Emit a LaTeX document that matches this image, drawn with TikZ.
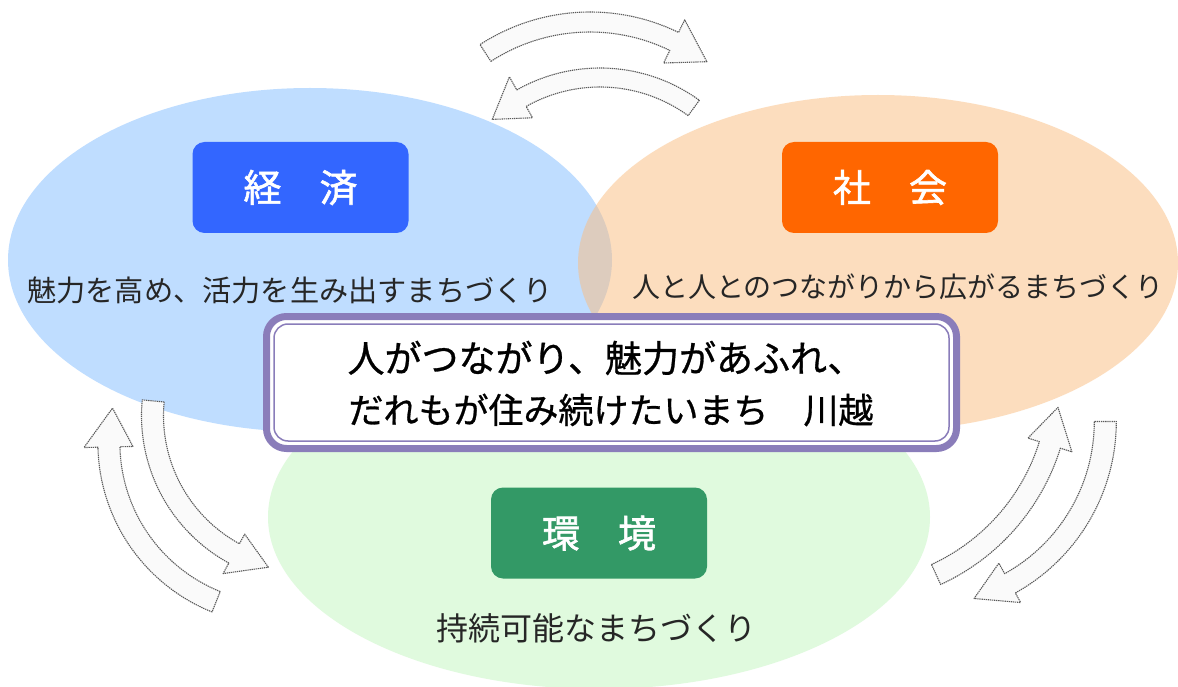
\documentclass[tikz,border=0pt]{standalone}
\usepackage{fontspec}
\setmainfont{Noto Sans CJK JP}
\newfontfamily\labelfont[RawFeature={embolden=1.5}]{Noto Sans CJK JP}
\newfontfamily\corefont[RawFeature={embolden=0.8}]{Noto Sans CJK JP}
\usetikzlibrary{shapes.geometric}
\definecolor{blueE}{RGB}{129,189,255}
\definecolor{orangeE}{RGB}{251,189,127}
\definecolor{greenE}{RGB}{224,250,222}
\definecolor{blueBox}{RGB}{51,102,255}
\definecolor{orangeBox}{RGB}{255,102,0}
\definecolor{greenBox}{RGB}{51,153,102}
\definecolor{purpleB}{RGB}{138,125,186}
\definecolor{arrowFill}{RGB}{250,250,250}
\definecolor{arrowLine}{RGB}{90,90,90}
\tikzset{
  ell/.style={ellipse, inner sep=0pt, draw=none},
  labelbox/.style={rounded corners=12pt, minimum width=216pt, minimum height=91pt, inner sep=0pt, text=white, font=\labelfont\fontsize{38}{40}\selectfont},
  desc/.style={inner sep=0pt, text=black!85},
  blockarrow/.style={draw=arrowLine, fill=arrowFill, line width=1.1pt, dash pattern=on 1.3pt off 0.8pt, line join=round}
}
\newcommand{\curvedArrow}[8]{%
  \begin{scope}[shift={#1}]
    \draw[blockarrow] (#4:#2) arc[start angle=#4, end angle=#5, radius=#2]
      -- (#5:#7) -- (#6:{(#2+#3)/2}) -- (#5:#8) -- (#5:#3)
      arc[start angle=#5, end angle=#4, radius=#3] -- cycle;
  \end{scope}}
\begin{document}
\begin{tikzpicture}[x=1pt,y=1pt]
\useasboundingbox (0,0) rectangle (1178,-687);
\fill[white] (0,0) rectangle (1178,-687);
% ellipses
\node[ell, fill=greenE, minimum width=662pt, minimum height=344pt] (envE) at (599,-517) {};
\node[ell, fill=blueE, fill opacity=0.5, minimum width=604pt, minimum height=344pt] (ecoE) at (310,-260) {};
\node[ell, fill=orangeE, fill opacity=0.5, minimum width=600pt, minimum height=336pt] (socE) at (878,-263) {};
% arrows
\curvedArrow{(590,-214)}{182}{202}{123}{64}{52.5}{168}{216}
\curvedArrow{(600,-237)}{150}{169}{54}{119.5}{132.5}{137}{184}
\curvedArrow{(309.5,-415.7)}{146}{168}{174.6}{241.3}{254.8}{135}{180}
\curvedArrow{(279.9,-443.1)}{160}{182}{248.1}{181.3}{168.2}{147}{196}
\curvedArrow{(847.5,-381.9)}{201}{223}{-65.3}{-17.3}{-6.9}{189}{235}
\curvedArrow{(920.3,-421.5)}{174}{196}{0}{-61}{-73.1}{162}{207}
% label boxes
\node[labelbox, fill=blueBox] (eco) at (300.5,-187.5) {経　済};
\node[labelbox, fill=orangeBox] (soc) at (890,-187.5) {社　会};
\node[labelbox, fill=greenBox] (env) at (599,-533) {環　境};
% descriptions
\node[desc, font=\fontsize{29.2}{32}\selectfont] (ecoT) at (290,-290) {魅力を高め、活力を生み出すまちづくり};
\node[desc, font=\fontsize{28}{32}\selectfont] (socT) at (898,-287) {人と人とのつながりから広がるまちづくり};
\node[desc, font=\fontsize{32}{36}\selectfont] (envT) at (596,-628) {持続可能なまちづくり};
% centre box
\node[draw=purpleB, line width=7pt, fill=white, rounded corners=20pt, minimum width=690pt, minimum height=132pt, inner sep=0pt] (core) at (611.5,-382.5) {};
\node[draw=purpleB, line width=1.5pt, rounded corners=14pt, minimum width=675pt, minimum height=117pt, inner sep=0pt] (coreIn) at (core.center) {};
\node[inner sep=0pt, font=\corefont\fontsize{37}{40}\selectfont] (coreT1) at (606,-358) {人がつながり、魅力があふれ、};
\node[inner sep=0pt, font=\corefont\fontsize{35}{40}\selectfont] (coreT2) at (611,-410) {だれもが住み続けたいまち　川越};
\end{tikzpicture}
\end{document}
